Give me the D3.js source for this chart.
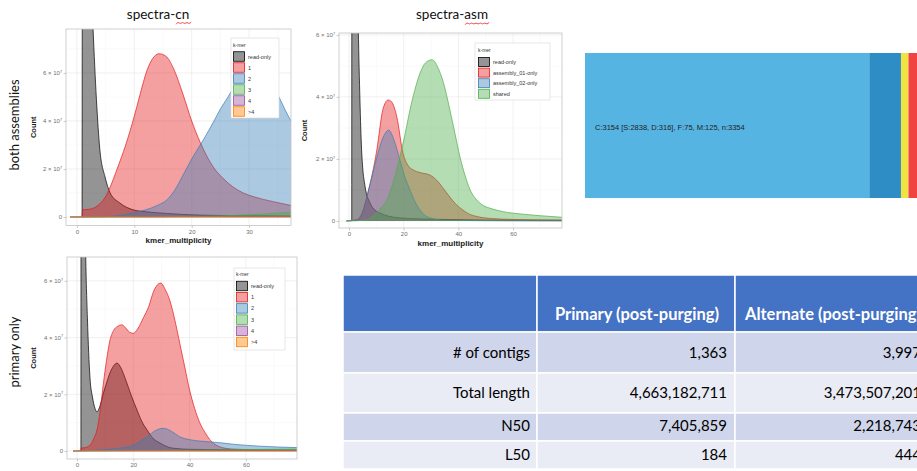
<!DOCTYPE html>
<html>
<head>
  <meta charset="utf-8">
  <style>
  body { margin: 0; background: #fff; }
  #fig svg { display: block; font-family: "Liberation Sans", Arial, sans-serif; }
  </style>
</head>
<body>
  <script src="https://cdn.jsdelivr.net/npm/d3@7"></script>
  <div id="fig"></div>
  <script>
    // k-mer spectra, counts in units of 10^7, points are [kmer_multiplicity, count]
    // spectra-cn, both assemblies
    const cnBothReadOnly = [[0.9,0],[1,20],[2.8,7.9],[3.4,4.9],[4.0,2.8],[4.9,1.67],[5.8,1.0],[7.5,0.58],[9.8,0.3],[12,0.22],[15.6,0.15],[21.4,0.08],[30,0.05],[37.3,0.04]];
    const cnBoth1 = [[0.9,0],[1,0.3],[2,0.32],[3,0.38],[4,0.55],[5,0.85],[5.8,1.25],[7,2.0],[8.5,3.0],[10,4.2],[11,5.1],[12.2,6.1],[13.2,6.6],[14.3,6.8],[15.5,6.7],[16.8,6.2],[18.5,5.1],[20,4.0],[21.5,3.1],[23.7,2.1],[25.5,1.6],[27.2,1.25],[29,1.0],[30.7,0.85],[34,0.65],[37.3,0.48]];
    const cnBoth2 = [[-1.2,0],[5,0.02],[8,0.08],[10,0.18],[12,0.3],[14,0.48],[15.7,0.72],[17,1.1],[18.5,1.75],[20.2,2.5],[22,3.2],[24,4.05],[25,4.5],[26.2,4.95],[27.2,5.35],[28.5,5.7],[30.5,5.95],[32.5,5.8],[34,5.45],[35.3,4.95],[36.3,4.45],[37.3,4.0]];
    const cnBoth3 = [[-1.2,0],[15,0.01],[22,0.03],[28,0.07],[33,0.13],[37.3,0.2]];
    const cnBoth4 = [[-1.2,0],[37.3,0]];
    const cnBothGt4 = [[-1.2,0],[37.3,0]];

    // spectra-asm
    const asmReadOnly = [[1,0],[1.1,25],[3.4,6.2],[4.0,3.9],[4.6,2.3],[5.9,1.1],[7.7,0.58],[9.5,0.35],[11.3,0.26],[14.6,0.15],[18.6,0.1],[25,0.07],[35,0.05],[50,0.03],[78,0.02]];
    const asm01Only = [[-1,0],[3,0.04],[5,0.3],[6.9,0.9],[8.5,1.5],[10.2,2.3],[12.4,3.6],[14.3,3.9],[15.5,3.85],[17.5,3.35],[19.7,2.2],[21.5,1.8],[23.4,1.65],[26,1.56],[29.6,1.48],[32,1.32],[34.5,1.05],[36.9,0.77],[39,0.55],[41.7,0.35],[44,0.22],[46.5,0.15],[52,0.08],[60,0.05],[78,0.03]];
    const asm02Only = [[-1,0],[3,0.04],[5,0.3],[7.7,1.2],[10.2,2.06],[12.5,2.7],[14.5,2.93],[16.5,2.6],[18.6,1.97],[20.5,1.4],[22.3,1.0],[24,0.65],[26,0.35],[28,0.17],[29.6,0.1],[35,0.02],[78,0]];
    const asmShared = [[-1,0],[5,0.02],[8,0.1],[10,0.25],[12,0.45],[13.9,0.68],[16,1.2],[18.6,2.06],[20.5,2.8],[22.3,3.58],[24,4.2],[26,4.77],[28,5.1],[30.4,5.2],[32.5,4.95],[34.4,4.5],[36.9,3.58],[38.8,2.8],[40.6,2.06],[42.5,1.45],[44.3,1.0],[46.5,0.7],[49.1,0.5],[52,0.4],[56.4,0.3],[63.6,0.22],[70,0.17],[78,0.12]];

    // spectra-cn, primary only
    const primReadOnly = [[1.4,0],[1.5,25],[3.1,6.9],[3.7,4.7],[4.6,2.6],[5.5,1.9],[6.4,1.5],[7.1,1.38],[8.2,1.6],[9.4,2.05],[10.5,2.4],[11.7,2.75],[13,3.0],[14.2,3.1],[15.5,2.95],[16.6,2.7],[17.7,2.4],[19.5,1.9],[21.3,1.45],[23,1.05],[24.9,0.74],[27,0.45],[29.5,0.28],[34,0.1],[40,0.06],[60,0.04],[78.2,0.03]];
    const prim1 = [[1.4,0],[1.5,0.1],[3,0.12],[5,0.25],[6,0.45],[7.1,0.74],[8.2,1.4],[9.4,2.4],[10.5,3.2],[11.7,3.9],[13,4.25],[14.5,4.4],[15.9,4.45],[17.2,4.35],[18.5,4.2],[20,4.15],[21.5,4.3],[23.6,4.7],[25.5,5.1],[27.1,5.6],[28.5,5.85],[29.8,5.92],[31.3,5.7],[33,5.3],[34.8,4.6],[36.5,3.8],[38.2,3.0],[40,2.15],[41.8,1.5],[43.6,1.0],[45.5,0.65],[47.2,0.4],[50.7,0.15],[55,0.07],[65,0.04],[78.2,0.03]];
    const prim2 = [[-1.4,0],[5,0.02],[10,0.05],[15,0.1],[20,0.2],[22.5,0.35],[24.9,0.5],[27.5,0.7],[30.6,0.8],[33.5,0.7],[36.5,0.5],[40,0.4],[43.6,0.35],[50,0.3],[55.4,0.24],[65,0.17],[78.2,0.12]];
    const prim3 = [[-1.4,0],[30,0.02],[50,0.04],[78.2,0.07]];
    const prim4 = [[-1.4,0],[78.2,0]];
    const primGt4 = [[-1.4,0],[78.2,0]];

    const cnLabels = ['read-only', '1', '2', '3', '4', '>4'];
    const cnColors = ['#000000', '#E41A1C', '#377EB8', '#4DAF4A', '#984EA3', '#FF7F00'];
    const asmLabels = ['read-only', 'assembly_01-only', 'assembly_02-only', 'shared'];
    const asmColors = ['#000000', '#E41A1C', '#377EB8', '#4DAF4A'];

    // BUSCO
    const buscoCats = ['S', 'D', 'F', 'M'];
    const buscoVals = [2838, 316, 75, 125];
    const buscoColors = ['#56B4E3', '#2F8DC6', '#F0E442', '#F04442'];

    // assembly stats table
    const tableHeader = ['', 'Primary (post-purging)', 'Alternate (post-purging)'];
    const rowLabels = ['# of contigs', 'Total length', 'N50', 'L50'];
    const primaryVals = [1363, 4663182711, 7405859, 184];
    const alternateVals = [3997, 3473507201, 2218743, 444];

    const svg = d3.select('#fig').append('svg')
      .attr('width', 917)
      .attr('height', 471);

    const FILL_ALPHA = 0.42;

    function drawPanel(p) {
      const x = d3.scaleLinear().domain(p.xDomain).range([p.left, p.right]);
      const y = d3.scaleLinear().domain(p.yDomain).range([p.bottom, p.top]);
      const g = svg.append('g');

      g.append('clipPath').attr('id', p.id)
        .append('rect')
        .attr('x', p.left).attr('y', p.top)
        .attr('width', p.right - p.left).attr('height', p.bottom - p.top);

      // grid
      const grid = g.append('g');
      grid.selectAll('line.vminor').data(p.xMinor).join('line')
        .attr('x1', d => x(d)).attr('x2', d => x(d)).attr('y1', p.top).attr('y2', p.bottom)
        .attr('stroke', '#F3F3F3').attr('stroke-width', 0.4);
      grid.selectAll('line.hminor').data(p.yMinor).join('line')
        .attr('y1', d => y(d)).attr('y2', d => y(d)).attr('x1', p.left).attr('x2', p.right)
        .attr('stroke', '#F3F3F3').attr('stroke-width', 0.4);
      grid.selectAll('line.vmajor').data(p.xTicks).join('line')
        .attr('x1', d => x(d)).attr('x2', d => x(d)).attr('y1', p.top).attr('y2', p.bottom)
        .attr('stroke', '#E6E6E6').attr('stroke-width', 0.6);
      grid.selectAll('line.hmajor').data(p.yTicks).join('line')
        .attr('y1', d => y(d)).attr('y2', d => y(d)).attr('x1', p.left).attr('x2', p.right)
        .attr('stroke', '#E6E6E6').attr('stroke-width', 0.6);

      const area = d3.area()
        .x(d => x(d[0])).y0(y(0)).y1(d => y(d[1]))
        .curve(d3.curveMonotoneX);
      const line = d3.line()
        .x(d => x(d[0])).y(d => y(d[1]))
        .curve(d3.curveMonotoneX);

      const plot = g.append('g').attr('clip-path', `url(#${p.id})`);
      p.series.forEach((s, i) => {
        plot.append('path')
          .attr('d', area(s))
          .attr('fill', p.colors[i])
          .attr('fill-opacity', FILL_ALPHA);
        plot.append('path')
          .attr('d', line(s))
          .attr('fill', 'none')
          .attr('stroke', p.colors[i])
          .attr('stroke-width', 0.7);
      });

      g.append('rect')
        .attr('x', p.left).attr('y', p.top)
        .attr('width', p.right - p.left).attr('height', p.bottom - p.top)
        .attr('fill', 'none').attr('stroke', '#C4C4C4').attr('stroke-width', 0.8);

      // axes
      const xAxis = g.append('g')
        .attr('transform', `translate(0,${p.bottom})`)
        .call(d3.axisBottom(x).tickValues(p.xTicks).tickSize(2.5).tickPadding(1.5));
      const yAxis = g.append('g')
        .attr('transform', `translate(${p.left},0)`)
        .call(d3.axisLeft(y).tickValues(p.yTicks).tickSize(2.5).tickPadding(1.5));
      [xAxis, yAxis].forEach(a => {
        a.select('.domain').remove();
        a.selectAll('.tick line').attr('stroke', '#AAAAAA').attr('stroke-width', 0.6);
        a.selectAll('.tick text')
          .attr('fill', '#6E6E6E')
          .style('font-size', '6px')
          .style('font-family', '"Liberation Sans", Arial, sans-serif');
      });
      yAxis.selectAll('.tick text').each(function(d) {
        const t = d3.select(this);
        if (d === 0) { t.text('0'); return; }
        t.text(null);
        t.append('tspan').text(d + ' \u00d7 10');
        t.append('tspan').attr('dy', -2.5).style('font-size', '3.8px').text('7');
      });

      g.append('text')
        .attr('x', (p.left + p.right) / 2 + p.xTitleShift)
        .attr('y', p.xTitleY)
        .attr('text-anchor', 'middle')
        .style('font-size', '8px').style('font-weight', 'bold').attr('fill', '#1a1a1a')
        .text('kmer_multiplicity');
      g.append('text')
        .attr('transform', `translate(${p.yTitleX},${(p.top + p.bottom) / 2}) rotate(-90)`)
        .attr('text-anchor', 'middle')
        .style('font-size', '7.5px').style('font-weight', 'bold').attr('fill', '#1a1a1a')
        .text('Count');

      // legend
      const L = p.legend;
      const lg = g.append('g');
      lg.append('rect')
        .attr('x', L.x).attr('y', L.y).attr('width', L.w).attr('height', L.h)
        .attr('fill', '#fff').attr('stroke', '#D8D8D8').attr('stroke-width', 0.6);
      lg.append('text')
        .attr('x', L.keyX).attr('y', L.titleY)
        .style('font-size', '5px').attr('fill', '#333').text('k-mer');
      p.labels.forEach((lab, i) => {
        const cy = L.firstY + i * L.pitch;
        lg.append('rect')
          .attr('x', L.keyX + 0.5).attr('y', cy - L.keyH / 2 + 0.5)
          .attr('width', L.keyW - 1).attr('height', L.keyH - 1)
          .attr('fill', '#fff');
        lg.append('rect')
          .attr('x', L.keyX + 0.5).attr('y', cy - L.keyH / 2 + 0.5)
          .attr('width', L.keyW - 1).attr('height', L.keyH - 1)
          .attr('fill', p.colors[i]).attr('fill-opacity', FILL_ALPHA)
          .attr('stroke', p.colors[i]).attr('stroke-width', 0.8);
        lg.append('text')
          .attr('x', L.keyX + L.keyW + 3).attr('y', cy + 2)
          .style('font-size', '5.5px').attr('fill', '#333').text(lab);
      });
    }

    drawPanel({
      id: 'clipA', left: 66, right: 291, top: 29, bottom: 225.5,
      xDomain: [-1.9, 37.3], yDomain: [-0.354, 7.83],
      xTicks: [0, 10, 20, 30], xMinor: [5, 15, 25, 35],
      yTicks: [0, 2, 4, 6], yMinor: [1, 3, 5, 7],
      series: [cnBothReadOnly, cnBoth1, cnBoth2, cnBoth3, cnBoth4, cnBothGt4],
      colors: cnColors, labels: cnLabels,
      xTitleY: 243, xTitleShift: 0, yTitleX: 36,
      legend: {x: 231, y: 38, w: 48, h: 80, titleY: 46.5, firstY: 56.5, pitch: 11, keyX: 233, keyW: 12, keyH: 10.5}
    });
    drawPanel({
      id: 'clipB', left: 339, right: 562, top: 33, bottom: 228,
      xDomain: [-3.66, 77.9], yDomain: [-0.226, 6.06],
      xTicks: [0, 20, 40, 60], xMinor: [10, 30, 50, 70],
      yTicks: [0, 2, 4, 6], yMinor: [1, 3, 5],
      series: [asmReadOnly, asm01Only, asm02Only, asmShared],
      colors: asmColors, labels: asmLabels,
      xTitleY: 246, xTitleShift: 0, yTitleX: 307,
      legend: {x: 475, y: 43, w: 75, h: 57, titleY: 51.5, firstY: 62, pitch: 10.6, keyX: 478, keyW: 12, keyH: 10}
    });
    drawPanel({
      id: 'clipC', left: 67, right: 297, top: 257, bottom: 459,
      xDomain: [-3.55, 78.15], yDomain: [-0.282, 6.84],
      xTicks: [0, 20, 40, 60], xMinor: [10, 30, 50, 70],
      yTicks: [0, 2, 4, 6], yMinor: [1, 3, 5],
      series: [primReadOnly, prim1, prim2, prim3, prim4, primGt4],
      colors: cnColors, labels: cnLabels,
      xTitleY: 475.5, xTitleShift: 0, yTitleX: 36,
      legend: {x: 234, y: 268, w: 51, h: 82, titleY: 275.5, firstY: 286, pitch: 11.2, keyX: 236, keyW: 12, keyH: 10.5}
    });

    // panel titles and row labels
    function squiggle(x0, x1, yy) {
      const pts = d3.range(x0, x1 + 0.01, 2.2).map((v, i) => [v, yy + (i % 2 ? -1.2 : 1.2)]);
      svg.append('path')
        .attr('d', d3.line().curve(d3.curveBasis)(pts))
        .attr('fill', 'none').attr('stroke', '#E8362D').attr('stroke-width', 0.9);
    }
    svg.append('text').attr('x', 158).attr('y', 19).attr('text-anchor', 'middle')
      .style('font-family', 'Lato, sans-serif').style('font-size', '13.5px').attr('fill', '#111')
      .text('spectra-cn');
    squiggle(176, 193, 23);
    svg.append('text').attr('x', 452).attr('y', 19).attr('text-anchor', 'middle')
      .style('font-family', 'Lato, sans-serif').style('font-size', '13.5px').attr('fill', '#111')
      .text('spectra-asm');
    squiggle(465, 490, 23.5);

    svg.append('text').attr('transform', 'translate(19,125) rotate(-90)').attr('text-anchor', 'middle')
      .style('font-family', 'Lato, sans-serif').style('font-size', '13px').attr('fill', '#111')
      .text('both assemblies');
    svg.append('text').attr('transform', 'translate(19,352) rotate(-90)').attr('text-anchor', 'middle')
      .style('font-family', 'Lato, sans-serif').style('font-size', '13px').attr('fill', '#111')
      .text('primary only');

    // BUSCO bar
    const buscoTotal = d3.sum(buscoVals);
    const bx = d3.scaleLinear().domain([0, buscoTotal]).range([585, 921]);
    const starts = d3.cumsum([0].concat(buscoVals.slice(0, -1)));
    svg.append('g').selectAll('rect').data(buscoVals).join('rect')
      .attr('x', (d, i) => bx(starts[i]))
      .attr('y', 53)
      .attr('width', d => bx(d) - bx(0))
      .attr('height', 145)
      .attr('fill', (d, i) => buscoColors[i]);
    const nComplete = buscoVals[0] + buscoVals[1];
    svg.append('text').attr('x', 595).attr('y', 129.5)
      .style('font-size', '7.5px').attr('fill', '#222')
      .text(`C:${nComplete} [S:${buscoVals[0]}, D:${buscoVals[1]}], F:${buscoVals[2]}, M:${buscoVals[3]}, n:${buscoTotal}`);

    // stats table
    const colEdges = [343, 537, 735, 929];
    const rowEdges = [275, 332, 373, 413, 441, 469];
    const fmt = d3.format(',');
    const tg = svg.append('g').style('font-family', 'Lato, sans-serif');
    for (let r = 0; r < 5; r++) {
      for (let c = 0; c < 3; c++) {
        tg.append('rect')
          .attr('x', colEdges[c]).attr('y', rowEdges[r])
          .attr('width', colEdges[c + 1] - colEdges[c]).attr('height', rowEdges[r + 1] - rowEdges[r])
          .attr('fill', r === 0 ? '#4472C4' : (r % 2 ? '#CFD5EA' : '#E9EBF5'))
          .attr('stroke', '#fff').attr('stroke-width', 1.5);
      }
    }
    tableHeader.forEach((h, c) => {
      tg.append('text')
        .attr('x', (colEdges[c] + colEdges[c + 1]) / 2 + 1).attr('y', 320)
        .attr('text-anchor', 'middle')
        .style('font-size', '16.5px').style('font-weight', 'bold').attr('fill', '#fff')
        .text(h);
    });
    const rowBase = [358, 398, 431, 460];
    rowLabels.forEach((lab, r) => {
      tg.append('text').attr('x', colEdges[1] - 7).attr('y', rowBase[r])
        .attr('text-anchor', 'end').style('font-size', '15px').attr('fill', '#000').text(lab);
      tg.append('text').attr('x', colEdges[2] - 8).attr('y', rowBase[r])
        .attr('text-anchor', 'end').style('font-size', '15px').attr('fill', '#000').text(fmt(primaryVals[r]));
      tg.append('text').attr('x', colEdges[3] - 8).attr('y', rowBase[r])
        .attr('text-anchor', 'end').style('font-size', '15px').attr('fill', '#000').text(fmt(alternateVals[r]));
    });
  </script>
</body>
</html>
